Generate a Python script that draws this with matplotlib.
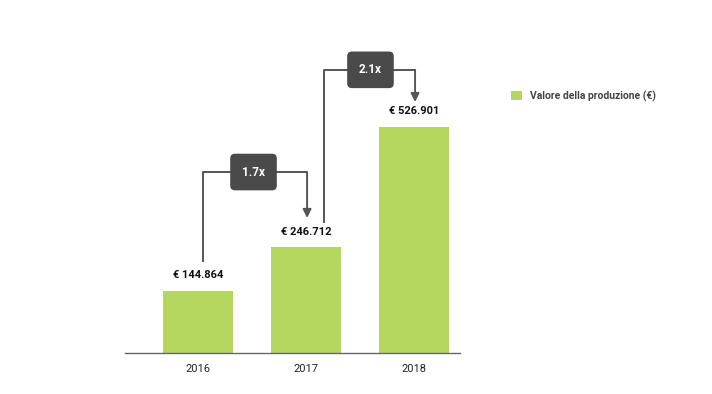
import numpy as np
import matplotlib
matplotlib.use("Agg")
import matplotlib.pyplot as plt
from matplotlib.patches import Patch

plt.rcParams['font.family'] = ['Roboto', 'DejaVu Sans']

years = ['2016', '2017', '2018']
values = [144864, 246712, 526901]
labels = ['€ 144.864', '€ 246.712', '€ 526.901']
legend_label = 'Valore della produzione (€)'

green = '#b5d75f'
dark = '#4a4a4a'

fig = plt.figure(figsize=(7.12, 3.94), dpi=100)
ax = fig.add_axes([125 / 712, 41 / 394, 335 / 712, 333 / 394])

x = np.arange(len(years))
ax.bar(x, values, width=0.64, color=green, zorder=2)
ax.set_xlim(-0.676, 2.426)
ax.set_ylim(0, 776000)

# value labels above bars
for xi, v, lab in zip(x, values, labels):
    ax.text(xi, v + 36000, lab, ha='center', va='center', fontsize=8,
            fontweight='bold', color='#111111')

# growth annotations: (left x offset, left start gap, top gap, box x offset, tip gap)
ann = [
    (0.046, 67000, 175000, 0.514, 68000),
    (0.167, 56000, 133000, 0.597, 58000),
]
for i, (lx, g0, gtop, bx, gtip) in enumerate(ann):
    ratio = values[i + 1] / values[i]
    ytop = values[i + 1] + gtop
    xl = x[i] + lx
    xb = x[i] + bx
    xr = x[i + 1] + 0.01
    ax.plot([xl, xl, xr], [values[i] + g0, ytop, ytop], color='#555555',
            lw=1.4, zorder=3, solid_capstyle='butt')
    ax.annotate('', xy=(xr, values[i + 1] + gtip), xytext=(xr, ytop),
                arrowprops=dict(arrowstyle='-|>,head_length=0.5,head_width=0.25',
                                color='#555555', lw=1.4, shrinkA=0, shrinkB=0),
                zorder=3)
    ax.text(xb, ytop, f'{ratio:.1f}x', ha='center', va='center', fontsize=8.5,
            fontweight='bold', color='white', zorder=5,
            bbox=dict(boxstyle='round,pad=1.0,rounding_size=0.4',
                      facecolor=dark, edgecolor='none'))

ax.set_xticks(x)
ax.set_xticklabels(years, fontsize=8, color='#222222')
ax.tick_params(axis='x', length=0, pad=8)
ax.set_yticks([])
for s in ['top', 'right', 'left']:
    ax.spines[s].set_visible(False)
ax.spines['bottom'].set_color('#666666')
ax.spines['bottom'].set_linewidth(1)

leg = fig.legend(handles=[Patch(facecolor=green, edgecolor='none', label=legend_label)],
                 loc='center left', bbox_to_anchor=(502 / 712, 1 - 96 / 394),
                 frameon=False, handlelength=1.0, handleheight=1.0,
                 handletextpad=0.8, prop={'weight': 'bold', 'size': 7.5})
for t in leg.get_texts():
    t.set_color('#444444')

fig.savefig('out.png', dpi=100, facecolor='white')
